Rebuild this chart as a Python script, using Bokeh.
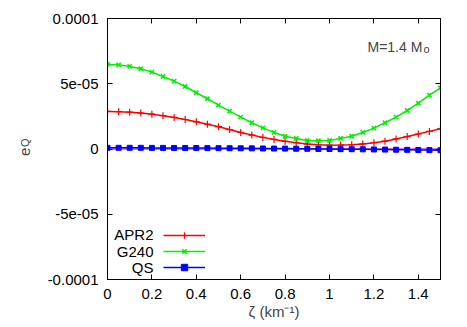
from bokeh.plotting import figure
from bokeh.models import (FixedTicker, LinearAxis, Label, Legend, LegendItem, Span, Range1d)
from bokeh.embed import file_html
from bokeh.resources import INLINE
import math

# ---- data ----
zeta = [0.0, 0.05, 0.1, 0.15, 0.2, 0.25, 0.3, 0.35, 0.4, 0.45, 0.5, 0.55, 0.6, 0.65, 0.7,
        0.75, 0.8, 0.85, 0.9, 0.95, 1.0, 1.05, 1.1, 1.15, 1.2, 1.25, 1.3, 1.35, 1.4, 1.45, 1.5]
apr2 = [2.88e-5, 2.86e-5, 2.82e-5, 2.75e-5, 2.67e-5, 2.55e-5, 2.42e-5, 2.26e-5, 2.08e-5, 1.90e-5,
        1.71e-5, 1.49e-5, 1.27e-5, 1.07e-5, 0.89e-5, 0.73e-5, 0.59e-5, 0.48e-5, 0.38e-5, 0.32e-5,
        0.29e-5, 0.30e-5, 0.33e-5, 0.39e-5, 0.48e-5, 0.60e-5, 0.77e-5, 0.95e-5, 1.15e-5, 1.35e-5,
        1.55e-5]
g240 = [6.48e-5, 6.45e-5, 6.33e-5, 6.15e-5, 5.89e-5, 5.56e-5, 5.20e-5, 4.79e-5, 4.31e-5, 3.85e-5,
        3.36e-5, 2.90e-5, 2.44e-5, 2.01e-5, 1.62e-5, 1.27e-5, 0.98e-5, 0.81e-5, 0.65e-5, 0.63e-5,
        0.65e-5, 0.81e-5, 0.98e-5, 1.27e-5, 1.60e-5, 2.01e-5, 2.44e-5, 2.95e-5, 3.51e-5, 4.13e-5,
        4.69e-5]
qs = [0.9e-6, 0.9e-6, 0.9e-6, 0.9e-6, 0.85e-6, 0.85e-6, 0.8e-6, 0.8e-6, 0.75e-6, 0.7e-6,
      0.65e-6, 0.6e-6, 0.55e-6, 0.5e-6, 0.4e-6, 0.35e-6, 0.3e-6, 0.2e-6, 0.15e-6, 0.05e-6,
      0.0, -0.1e-6, -0.15e-6, -0.25e-6, -0.35e-6, -0.45e-6, -0.55e-6, -0.65e-6, -0.75e-6,
      -0.85e-6, -0.95e-6]
series_names = ["APR2", "G240", "QS"]
x_ticks = [0, 0.2, 0.4, 0.6, 0.8, 1.0, 1.2, 1.4]
x_tick_labels = ["0", "0.2", "0.4", "0.6", "0.8", "1", "1.2", "1.4"]
y_ticks = [-0.0001, -5e-05, 0, 5e-05, 0.0001]
y_tick_labels = ["-0.0001", "-5e-05", "0", "5e-05", "0.0001"]
x_label = "ζ (km⁻¹)"

FONT = "Liberation Sans"
FS = "15px"

p = figure(width=460, height=326, output_backend="svg", toolbar_location=None,
           x_range=Range1d(0, 1.5), y_range=Range1d(-0.0001, 0.0001),
           min_border_left=107, min_border_right=20, min_border_top=18, min_border_bottom=47)
p.grid.visible = False
p.outline_line_color = "black"
p.outline_line_width = 1
p.background_fill_color = "white"
p.border_fill_color = "white"

def style_axis(ax, ticks, labels, show_labels=True):
    ax.ticker = FixedTicker(ticks=ticks)
    ax.major_tick_in = 5
    ax.major_tick_out = 0
    ax.minor_tick_line_color = None
    ax.axis_line_color = "black"
    ax.major_tick_line_color = "black"
    ax.major_label_standoff = 9
    if show_labels:
        ax.major_label_overrides = {t: l for t, l in zip(ticks, labels)}
        ax.major_label_text_font = FONT
        ax.major_label_text_font_size = FS
        ax.major_label_text_color = "black"
    else:
        ax.major_label_overrides = {t: "" for t in ticks}
        ax.major_label_text_font_size = "0px"
        ax.major_label_standoff = 0

style_axis(p.xaxis[0], x_ticks, x_tick_labels)
style_axis(p.yaxis[0], y_ticks, y_tick_labels)
p.xaxis[0].axis_label = x_label
p.xaxis[0].axis_label_text_font = FONT
p.xaxis[0].axis_label_text_font_size = FS
p.xaxis[0].axis_label_text_font_style = "normal"
p.xaxis[0].axis_label_standoff = 1
top = LinearAxis()
right = LinearAxis()
style_axis(top, x_ticks, x_tick_labels, show_labels=False)
style_axis(right, y_ticks, y_tick_labels, show_labels=False)
p.add_layout(top, "above")
p.add_layout(right, "right")

p.add_layout(Span(location=0, dimension="width", line_color="#e040e0", line_width=1.5, level="underlay"))

colors = ["#ff0000", "#00f000", "#0000ff"]
l1 = p.line(zeta, apr2, line_color=colors[0], line_width=1.5)
m1 = p.scatter(zeta, apr2, marker="cross", size=7, line_color=colors[0], line_width=1.2)
l2 = p.line(zeta, g240, line_color=colors[1], line_width=1.5)
m2 = p.scatter(zeta, g240, marker="x", size=6, line_color=colors[1], line_width=1.6)
l3 = p.line(zeta, qs, line_color=colors[2], line_width=1.5)
m3 = p.scatter(zeta, qs, marker="square", size=5, line_color=colors[2], fill_color=colors[2])

legend = Legend(items=[LegendItem(label=" ", renderers=[l1, m1]),
                       LegendItem(label=" ", renderers=[l2, m2]),
                       LegendItem(label=" ", renderers=[l3, m3])],
                location=(56, 4.5), glyph_width=42, glyph_height=16, label_width=0,
                label_height=16, label_standoff=0, spacing=0, padding=0, margin=0,
                label_text_font_size="1px", border_line_color=None,
                background_fill_alpha=0)
p.add_layout(legend)

row_y = [44.8, 28.2, 12.2]
for name, yy in zip(series_names, row_y):
    p.add_layout(Label(x=46, y=yy, x_units="screen", y_units="screen", text=name,
                       text_align="right", text_baseline="middle",
                       text_font=FONT, text_font_size=FS, text_color="black"))

# annotation M=1.4 M_o
p.add_layout(Label(x=260, y=232.5, x_units="screen", y_units="screen", text="M=1.4 M",
                   text_font=FONT, text_font_size="14px", text_baseline="alphabetic"))
p.add_layout(Label(x=316, y=230.3, x_units="screen", y_units="screen", text="o",
                   text_font=FONT, text_font_size="11px", text_baseline="alphabetic"))

# y label e_Q (side panel labels)
p.add_layout(Label(x=-10, y=123.4, x_units="screen", y_units="screen", text="e", angle=math.pi / 2,
                   text_font=FONT, text_font_size=FS, text_baseline="alphabetic"), "left")
p.add_layout(Label(x=2, y=132.4, x_units="screen", y_units="screen", text="Q", angle=math.pi / 2,
                   text_font=FONT, text_font_size="11px", text_baseline="alphabetic"), "left")

open("out.html", "w").write(file_html(p, INLINE))
